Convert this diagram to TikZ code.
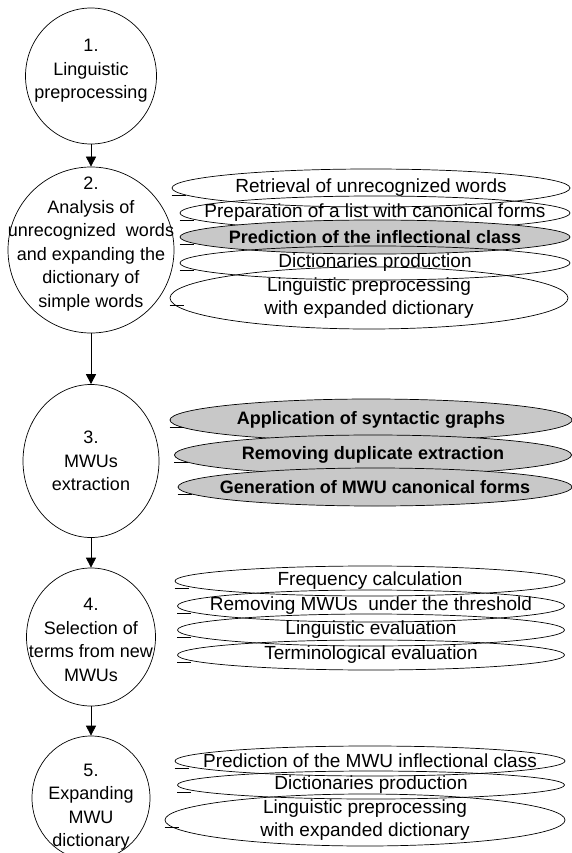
\documentclass[tikz,border=0pt]{standalone}
\usepackage{fontspec}
\setmainfont{Liberation Sans}
\usetikzlibrary{arrows.meta,shapes.geometric}
\definecolor{fillgray}{RGB}{200,200,200}

\begin{document}
\begin{tikzpicture}[x=1pt,y=-1pt, line width=0.7pt,
		font=\fontsize{19}{23.5}\selectfont,
		stage/.style={ellipse, draw, inner sep=0pt},
		steptext/.style={align=center, font=\fontsize{18}{23.5}\selectfont},
		sub/.style={ellipse, draw, inner xsep=-100pt, inner ysep=-20pt, align=center},
		key/.style={sub, fill=fillgray, font=\fontsize{18}{23.5}\selectfont\bfseries},
		flow/.style={-{Triangle[length=10pt,width=10pt]}}]
	\useasboundingbox (0,0) rectangle (572,853);
	
	% Schritte
	\node[stage, minimum width=131, minimum height=136, label={[steptext, yshift=5pt]center:1.\\Linguistic\\preprocessing}] (p1) at (91,76) {};
	\node[stage, minimum width=166, minimum height=166, label={[steptext, yshift=6pt]center:2.\\Analysis of\\unrecognized\ \ words\\and expanding the\\dictionary of\\simple words}] (p2) at (91,250) {};
	\node[stage, minimum width=136, minimum height=153, label={[steptext]center:3.\\MWUs\\extraction}] (p3) at (91,461) {};
	\node[stage, minimum width=129, minimum height=138, label={[steptext, yshift=-3pt]center:4.\\Selection of\\terms from new\\MWUs}] (p4) at (91,637) {};
	\node[stage, minimum width=118, minimum height=124, label={[steptext, yshift=-9pt]center:5.\\Expanding\\MWU\\dictionary}] (p5) at (91,798) {};
	
	% Pfeile
	\draw[flow] (p1) -- (p2);
	\draw[flow] (p2) -- (p3);
	\draw[flow] (p3) -- (p4);
	\draw[flow] (p4) -- (p5);
	
	% Teilschritte 2
	\node[sub, minimum width=398, minimum height=38] (s21) at (371,188) {Retrieval of unrecognized words};
	\node[sub, minimum width=390, minimum height=34] (s22) at (375,213) {Preparation of a list with canonical forms};
	\node[key, minimum width=390, minimum height=34] (s23) at (375,237) {Prediction of the inflectional class};
	\node[sub, minimum width=390, minimum height=34] (s24) at (375,263) {Dictionaries production};
	\node[sub, minimum width=398, minimum height=62] (s25) at (369,298) {Linguistic preprocessing\\with expanded dictionary};
	
	% Teilschritte 3
	\node[key, minimum width=402, minimum height=42] (s31) at (371,420) {Application of syntactic graphs};
	\node[key, minimum width=397, minimum height=40] (s32) at (373,455) {Removing duplicate extraction};
	\node[key, minimum width=394, minimum height=38] (s33) at (375,487) {Generation of MWU canonical forms};
	
	% Teilschritte 4
	\node[sub, minimum width=390, minimum height=30] (s41) at (370,581) {Frequency calculation};
	\node[sub, minimum width=387, minimum height=32] (s42) at (371,606) {Removing MWUs\ \ under the threshold};
	\node[sub, minimum width=387, minimum height=32] (s43) at (371,630) {Linguistic evaluation};
	\node[sub, minimum width=387, minimum height=30] (s44) at (371,655) {Terminological evaluation};
	
	% Teilschritte 5
	\node[sub, minimum width=390, minimum height=30] (s51) at (370,761) {Prediction of the MWU inflectional class};
	\node[sub, minimum width=387, minimum height=28] (s52) at (371,785) {Dictionaries production};
	\node[sub, minimum width=400, minimum height=52] (s53) at (365,820) {Linguistic preprocessing\\with expanded dictionary};
	
	% Anschluesse
	\foreach \s in {s21,s22,s23,s24,s25,s31,s32,s33,s41,s42,s43,s44,s51,s52,s53}
		\draw ([yshift=-7pt]\s.west) -- +(14,0);
\end{tikzpicture}
\end{document}
